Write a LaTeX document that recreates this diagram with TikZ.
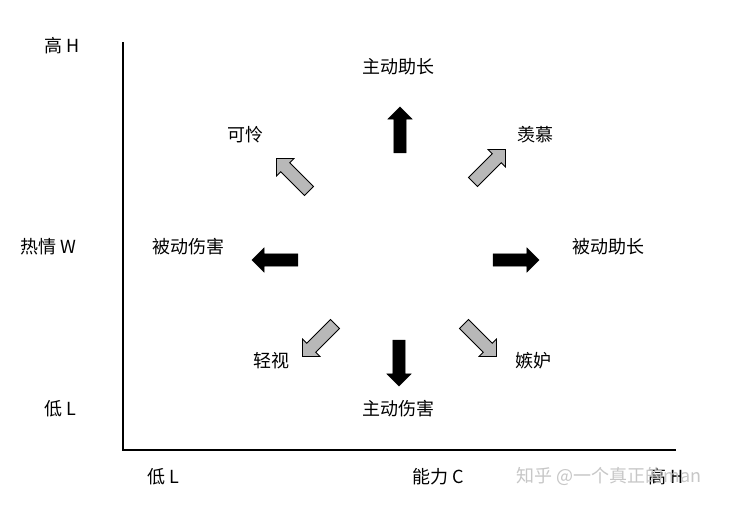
\documentclass[tikz,border=0pt]{standalone}
\usepackage{fontspec}
\setmainfont{Liberation Serif}
\newfontfamily\cjk{Noto Sans CJK SC}
\usetikzlibrary{shapes.arrows}
\begin{document}
\begin{tikzpicture}[x=1pt,y=-1pt,
  lbl/.style={font=\cjk\fontsize{18}{20}\selectfont,inner sep=1pt},
  blk/.style={single arrow,draw=black,fill=black,minimum height=46pt,minimum width=24pt,
    single arrow head extend=6pt,single arrow head indent=0pt,inner sep=6pt},
  gry/.style={blk,fill=black!28,line width=0.8pt}]
\useasboundingbox (0,0) rectangle (739,506);
\fill[white] (0,0) rectangle (739,506);
\coordinate (o) at (123,450);
\coordinate (top) at (123,42);
\coordinate (right) at (676,450);
\draw[line width=1.2pt] (top) -- (o) -- (right);
\node[lbl] (hH) at (62,46) {高 H};
\node[lbl] (wW) at (48,247) {热情 W};
\node[lbl] (lL) at (60,409) {低 L};
\node[lbl] (xL) at (163,477) {低 L};
\node[lbl] (cC) at (438,477) {能力 C};
\node[lbl] (xH) at (666,477) {高 H};
\node[lbl,text=black!22] (wm) at (609,476) {知乎 @一个真正的man};
\node[lbl] (t1) at (398,67) {主动助长};
\node[lbl] (t2) at (245,135) {可怜};
\node[lbl] (t3) at (535,135) {羡慕};
\node[lbl] (t4) at (188,247) {被动伤害};
\node[lbl] (t5) at (608,247) {被动助长};
\node[lbl] (t6) at (271,361) {轻视};
\node[lbl] (t7) at (533,361) {嫉妒};
\node[lbl] (t8) at (398,409) {主动伤害};
\node[blk,rotate=90] (a1) at (400,133) {};
\node[blk,rotate=270] (a8) at (399,360) {};
\node[blk,rotate=180] (a4) at (278,260) {};
\node[blk] (a5) at (513,260) {};
\node[gry,rotate=135] (a2) at (295,177) {};
\node[gry,rotate=45] (a3) at (487,168) {};
\node[gry,rotate=225] (a6) at (321,338) {};
\node[gry,rotate=315] (a7) at (478,338) {};
\end{tikzpicture}
\end{document}
